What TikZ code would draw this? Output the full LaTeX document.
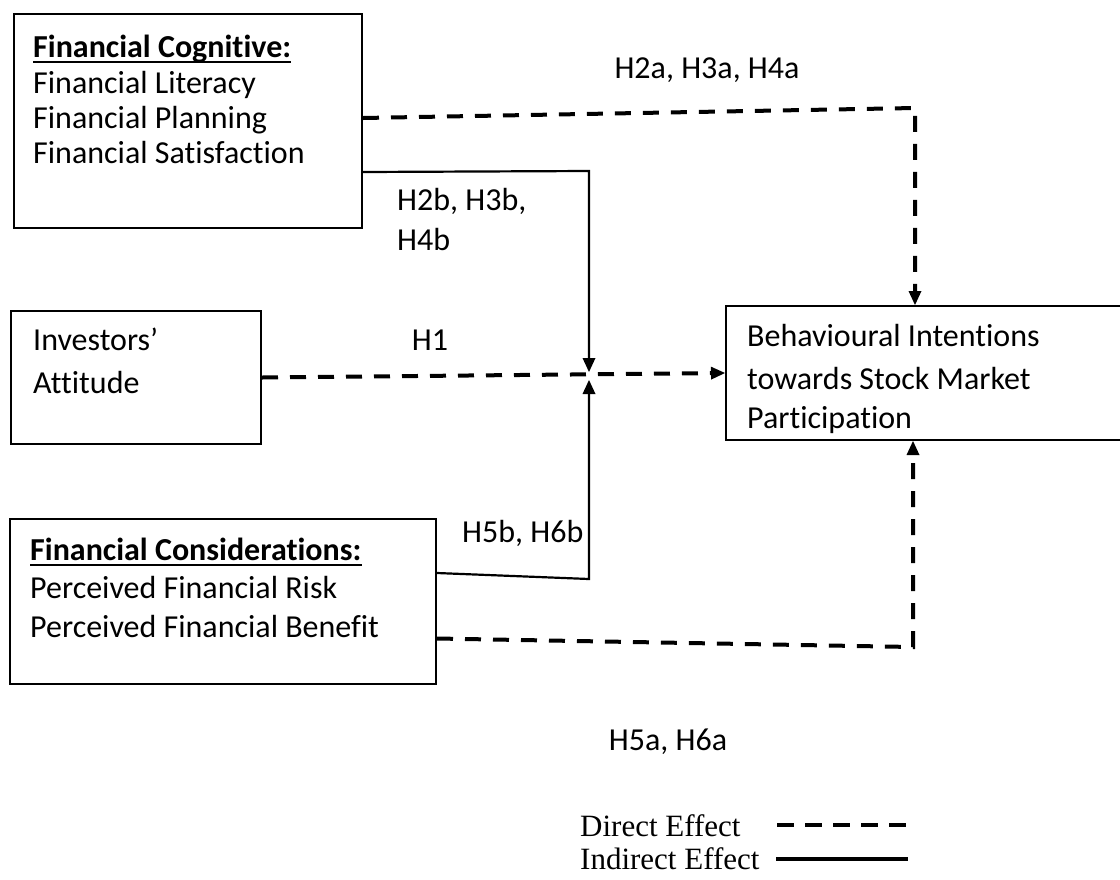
\documentclass[tikz,border=0pt]{standalone}
\usepackage{fontspec}
\setmainfont[Ligatures=NoCommon]{Carlito}
\newfontfamily\legendfont{Liberation Serif}
\usetikzlibrary{arrows.meta,calc}
\begin{document}
\begin{tikzpicture}[x=1pt,y=-1pt,
 box/.style={draw,line width=2pt,anchor=north west,inner sep=0pt},
 txt/.style={inner sep=0pt,anchor=base west,font=\fontsize{32}{38}\selectfont},
 btxt/.style={inner sep=0pt,anchor=base west,font=\bfseries\fontsize{32}{38}\selectfont},
 lbl/.style={inner sep=0pt,anchor=base,font=\fontsize{32}{38}\selectfont},
 direct/.style={line width=4pt,dash pattern=on 16pt off 12pt},
 indirect/.style={line width=2.2pt},
 tip/.style={-{Triangle[length=14pt,width=13pt,line width=0pt]}},
 legtxt/.style={inner sep=0pt,anchor=base west,font=\legendfont\fontsize{31}{36}\selectfont}]
\clip (0,0) rectangle (1120,879);
\fill[white] (0,0) rectangle (1120,879);

% boxes
\node[box,minimum width=348pt,minimum height=214pt] (cog) at (13,13) {};
\node[box,minimum width=250pt,minimum height=133pt] (att) at (10,310) {};
\node[box,minimum width=426pt,minimum height=165pt] (cons) at (9,518) {};
\node[box,minimum width=420pt,minimum height=134pt] (beh) at (725,305) {};

% box texts
\node[btxt] (cogh) at (33,57) {Financial Cognitive:};
\draw[line width=2pt] ($(cogh.base west)+(0,5)$) -- ($(cogh.base east)+(0,5)$);
\node[txt] (cog1) at (33,93) {Financial Literacy};
\node[txt] (cog2) at (33,128) {Financial Planning};
\node[txt] (cog3) at (33,163) {Financial Satisfaction};

\node[txt] (att1) at (33,350) {Investors’};
\node[txt] (att2) at (33,393) {Attitude};

\node[btxt] (consh) at (30,560) {Financial Considerations:};
\draw[line width=2pt] ($(consh.base west)+(0,5)$) -- ($(consh.base east)+(0,5)$);
\node[txt] (cons1) at (30,598) {Perceived Financial Risk};
\node[txt] (cons2) at (30,637) {Perceived Financial Benefit};

\node[txt] (beh1) at (747,346) {Behavioural Intentions};
\node[txt] (beh2) at (747,389) {towards Stock Market};
\node[txt] (beh3) at (747,428) {Participation};

% routing points
\coordinate (c1) at (915,108);
\coordinate (j) at (589,376);
\coordinate (k1) at (589,171);
\coordinate (k2) at (589,579);
\coordinate (c2) at (913,647);

% connectors
\draw[direct,tip] ($(cog.east)+(0,-3)$) -- (c1) -- (c1 |- beh.north);
\draw[indirect,tip,shorten >=4pt] ($(cog.east)+(0,51)$) -- (k1) -- (j);
\draw[direct,tip] (att.east) -- (beh.west);
\draw[indirect,tip,shorten >=4pt] ($(cons.east)+(0,-28.5)$) -- (k2) -- (j);
\draw[direct,tip] ($(cons.east)+(0,37)$) -- (c2) -- (c2 |- beh.south);

% labels
\node[lbl] (h2a) at (707,78) {H2a, H3a, H4a};
\node[txt] (h2b) at (397,210) {H2b, H3b,};
\node[txt] (h4b) at (397,250) {H4b};
\node[lbl] (h1) at (430,350) {H1};
\node[txt] (h5b) at (462,542) {H5b, H6b};
\node[lbl] (h5a) at (668,750) {H5a, H6a};

% legend
\node[legtxt] (ld) at (580,836) {Direct Effect};
\node[legtxt] (li) at (580,869) {Indirect Effect};
\coordinate (ld1) at (777,825);
\coordinate (ld2) at (906,825);
\coordinate (li1) at (776,859);
\coordinate (li2) at (908,859);
\draw[line width=4pt,dash pattern=on 17pt off 11pt] (ld1) -- (ld2);
\draw[line width=4pt] (li1) -- (li2);
\end{tikzpicture}
\end{document}
